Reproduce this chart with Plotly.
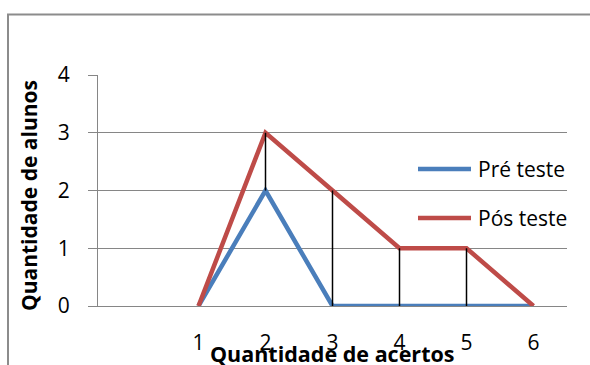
import plotly.graph_objects as go

# Dados do gráfico
acertos = [1, 2, 3, 4, 5, 6]
pre_teste = [0, 2, 0, 0, 0, 0]
pos_teste = [0, 3, 2, 1, 1, 0]
series_names = ["Pré teste", "Pós teste"]
series_colors = ["#4A7EBB", "#BE4B48"]
y_ticks = [0, 1, 2, 3, 4]

FONT = "Open Sans"
GRID = "#868686"

W, H = 590, 365
ML, MR, MT, MB = 98, 23, 75, 59
PW, PH = W - ML - MR, H - MT - MB


def px_x(px):
    return (px - ML) / PW


def px_y(py):
    return (H - MB - py) / PH


fig = go.Figure()

for name, vals, color in zip(series_names, [pre_teste, pos_teste], series_colors):
    fig.add_trace(go.Scatter(
        x=acertos, y=vals, mode="lines", name=name,
        line=dict(color=color, width=4.5),
        cliponaxis=False, showlegend=False,
    ))

# Linhas de máximo/mínimo entre as duas séries
hl_x, hl_y = [], []
for xv, a, b in zip(acertos, pre_teste, pos_teste):
    if a != b:
        hl_x += [xv, xv, None]
        hl_y += [min(a, b), max(a, b), None]
fig.add_trace(go.Scatter(
    x=hl_x, y=hl_y, mode="lines", line=dict(color="black", width=1.5),
    showlegend=False, cliponaxis=False,
))

shapes = [
    # moldura da área do gráfico
    dict(type="rect", xref="paper", yref="paper",
         x0=px_x(8), x1=px_x(620), y0=px_y(400), y1=px_y(14.5),
         line=dict(color="#8C8C8C", width=2), fillcolor="rgba(0,0,0,0)"),
]
annotations = []

# legenda
for i, (name, color) in enumerate(zip(series_names, series_colors)):
    yy = px_y(169 + 49 * i)
    shapes.append(dict(type="line", xref="paper", yref="paper",
                       x0=px_x(418), x1=px_x(471), y0=yy, y1=yy,
                       line=dict(color=color, width=4.5)))
    annotations.append(dict(xref="paper", yref="paper", x=px_x(476), y=yy,
                            text=name, showarrow=False, xanchor="left",
                            yanchor="middle",
                            font=dict(family=FONT, size=21, color="black")))

# títulos dos eixos
annotations.append(dict(xref="paper", yref="paper", x=px_x(332), y=px_y(353),
                        text="<b>Quantidade de acertos</b>", showarrow=False,
                        xanchor="center", yanchor="middle",
                        font=dict(family=FONT, size=21.5, color="black")))
annotations.append(dict(xref="paper", yref="paper", x=px_x(29), y=px_y(196),
                        text="<b>Quantidade de alunos</b>", showarrow=False,
                        textangle=-90, xanchor="center", yanchor="middle",
                        font=dict(family=FONT, size=21, color="black")))

fig.update_layout(
    width=W, height=H, autosize=False,
    margin=dict(l=ML, r=MR, t=MT, b=MB),
    paper_bgcolor="white", plot_bgcolor="white",
    font=dict(family=FONT, size=21, color="black"),
    shapes=shapes, annotations=annotations,
    xaxis=dict(range=[-0.5, 6.5], tickvals=acertos, ticktext=[str(a) for a in acertos],
               showgrid=False, zeroline=False, showline=True, linecolor=GRID,
               linewidth=1, ticks="", ticklabelstandoff=18, automargin=False,
               fixedrange=True),
    yaxis=dict(range=[0, 4], tickvals=y_ticks, showgrid=True, gridcolor=GRID,
               gridwidth=1, zeroline=False, showline=True, linecolor=GRID,
               linewidth=1, ticks="outside", ticklen=9, tickcolor=GRID,
               ticklabelstandoff=14, automargin=False, fixedrange=True),
)

fig.write_html("out.html")
